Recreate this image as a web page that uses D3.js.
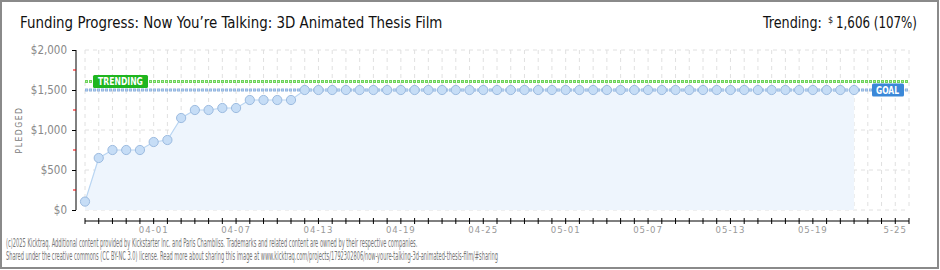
<!DOCTYPE html>
<html>
<head>
<meta charset="utf-8">
<script src="https://cdn.jsdelivr.net/npm/d3@7"></script>
<style>
  html, body { margin: 0; padding: 0; background: #fff; }
  svg { display: block; }
  text { font-family: "DejaVu Sans Condensed", "DejaVu Sans", sans-serif; }
</style>
</head>
<body>
<svg id="chart" width="940" height="270"></svg>
<script>
// pledged totals per day, starting 03-27
const pledged = [105, 650, 750, 750, 750, 850, 875, 1150, 1250, 1250, 1275, 1275,
  1375, 1375, 1375, 1375,
  1500, 1500, 1500, 1500, 1500, 1500, 1500, 1500, 1500, 1500, 1500, 1500, 1500, 1500,
  1500, 1500, 1500, 1500, 1500, 1500, 1500, 1500, 1500, 1500, 1500, 1500, 1500, 1500,
  1500, 1500, 1500, 1500, 1500, 1500, 1500, 1500, 1500, 1500, 1500, 1500, 1500];
const dayCount = 61;
const xLabels = ["04-01", "04-07", "04-13", "04-19", "04-25", "05-01", "05-07", "05-13", "05-19", "5-25"];
const xLabelDays = [5, 11, 17, 23, 29, 35, 41, 47, 53, 59];
const yTicks = [0, 500, 1000, 1500, 2000];
const yMinor = [250, 750, 1250, 1750];
const goal = 1500;
const trending = 1606;

const svg = d3.select("#chart");

// frame
svg.append("rect").attr("x", 1).attr("y", 1).attr("width", 937).attr("height", 267)
  .attr("fill", "none").attr("stroke", "#8a8a8a").attr("stroke-width", 2);

const x = d3.scaleLinear().domain([0, dayCount - 1]).range([85, 909]);
const y = d3.scaleLinear().domain([0, 2000]).range([210, 50]);

// squeeze a text horizontally to a given width
function fitText(sel, tx, ty, width) {
  const w = sel.node().getComputedTextLength();
  sel.attr("transform", `translate(${tx},${ty}) scale(${width / w},1)`);
  return sel;
}

// title
fitText(svg.append("text").attr("font-size", 15).attr("fill", "#111")
  .text("Funding Progress: Now You\u2019re Talking: 3D Animated Thesis Film"), 20, 28, 423);

fitText(svg.append("text").attr("font-size", 15).attr("fill", "#111").text("Trending:"), 763, 28, 59);
svg.append("text").attr("x", 828).attr("y", 23).attr("font-size", 9).attr("fill", "#111").text("$");
fitText(svg.append("text").attr("font-size", 15).attr("fill", "#111").text("1,606 (107%)"), 836, 28, 81);

// grid
const grid = svg.append("g");
grid.selectAll("line.v").data(d3.range(dayCount)).join("line")
  .attr("x1", d => x(d)).attr("x2", d => x(d)).attr("y1", y(2000)).attr("y2", y(0))
  .attr("stroke", "#e0e0e0").attr("stroke-dasharray", "4,4");
grid.selectAll("line.h").data(yTicks).join("line")
  .attr("x1", x(0)).attr("x2", x(dayCount - 1)).attr("y1", d => y(d)).attr("y2", d => y(d))
  .attr("stroke", "#e0e0e0").attr("stroke-dasharray", "4,4");

// area
const area = d3.area().x((d, i) => x(i)).y0(y(0)).y1(d => y(d));
svg.append("path").datum(pledged).attr("d", area).attr("fill", "#eef5fd");

// trending & goal lines
function refLine(v, outer, inner) {
  svg.append("line").attr("x1", x(0)).attr("x2", x(dayCount - 1))
    .attr("y1", y(v)).attr("y2", y(v))
    .attr("stroke", outer).attr("stroke-width", 3).attr("stroke-dasharray", "3,1");
  svg.append("line").attr("x1", x(0)).attr("x2", x(dayCount - 1))
    .attr("y1", y(v)).attr("y2", y(v))
    .attr("stroke", inner).attr("stroke-width", 1).attr("stroke-dasharray", "1,3").attr("stroke-dashoffset", -1);
}
refLine(trending, "#6dd35a", "#b5ecaa");
refLine(goal, "#90b4e0", "#c6daf2");

const line = d3.line().x((d, i) => x(i)).y(d => y(d));
svg.append("path").datum(pledged).attr("d", line).attr("fill", "none")
  .attr("stroke", "#b9d5f2").attr("stroke-width", 1.2);

svg.append("g").selectAll("circle").data(pledged).join("circle")
  .attr("cx", (d, i) => x(i)).attr("cy", d => y(d)).attr("r", 4.6)
  .attr("fill", "#c6ddf6").attr("stroke", "#9cbbe0").attr("stroke-width", 1);

// labels on lines
const tg = svg.append("g").attr("transform", `translate(93,${y(trending) - 6.5})`);
tg.append("rect").attr("width", 55).attr("height", 13).attr("rx", 1.5).attr("fill", "#1fb51f");
fitText(tg.append("text").attr("font-size", 10).attr("font-weight", "bold")
  .attr("fill", "#fff").text("TRENDING"), 5, 10, 45);
const gg = svg.append("g").attr("transform", `translate(872,${y(goal) - 6.5})`);
gg.append("rect").attr("width", 32).attr("height", 13).attr("rx", 1.5).attr("fill", "#3b88d8");
fitText(gg.append("text").attr("font-size", 10).attr("font-weight", "bold")
  .attr("fill", "#fff").text("GOAL"), 4, 10, 23);

// y axis
const yAxis = svg.append("g").attr("transform", "translate(76,0)")
  .call(d3.axisLeft(y).tickValues(yTicks).tickSize(4).tickPadding(5)
    .tickFormat(d => "$" + d3.format(",")(d)));
yAxis.select(".domain").attr("stroke", "#000").attr("d", `M0,${y(2000)}V${y(0)}`);
yAxis.selectAll(".tick line").attr("stroke", "#000");
yAxis.selectAll(".tick text").attr("fill", "#888").attr("font-size", 11.5);
yAxis.append("g").selectAll("line").data(yMinor).join("line")
  .attr("x1", -3).attr("x2", 0).attr("y1", d => y(d)).attr("y2", d => y(d))
  .attr("stroke", "#e00");

svg.append("text").attr("transform", "translate(22,130) rotate(-90)")
  .attr("text-anchor", "middle").attr("font-size", 8.5).attr("fill", "#777")
  .attr("letter-spacing", 1.5).text("PLEDGED");

// x axis
const xAxis = svg.append("g").attr("transform", "translate(0,221)")
  .call(d3.axisBottom(x).tickValues(d3.range(dayCount)).tickSize(0).tickFormat(""));
xAxis.select(".domain").attr("stroke", "#000").attr("d", `M${x(0)},0H${x(dayCount - 1)}`);
xAxis.append("g").selectAll("line").data(d3.range(dayCount)).join("line")
  .attr("x1", d => x(d)).attr("x2", d => x(d)).attr("y1", -3).attr("y2", 3).attr("stroke", "#000");
xAxis.append("g").selectAll("text").data(xLabels).join("text")
  .attr("x", (d, i) => x(xLabelDays[i])).attr("y", 12).attr("text-anchor", "middle")
  .attr("font-size", 9.5).attr("fill", "#999").attr("letter-spacing", 1).text(d => d);

// footer
fitText(svg.append("text").attr("font-size", 12).attr("fill", "#777")
  .text("(c)2025 Kicktraq. Additional content provided by Kickstarter Inc. and Paris Chambliss. Trademarks and related content are owned by their respective companies."),
  6, 247, 412);
fitText(svg.append("text").attr("font-size", 12).attr("fill", "#777")
  .text("Shared under the creative commons (CC BY-NC 3.0) license. Read more about sharing this image at www.kicktraq.com/projects/1792302806/now-youre-talking-3d-animated-thesis-film/#sharing"),
  6, 260, 493);
</script>
</body>
</html>
